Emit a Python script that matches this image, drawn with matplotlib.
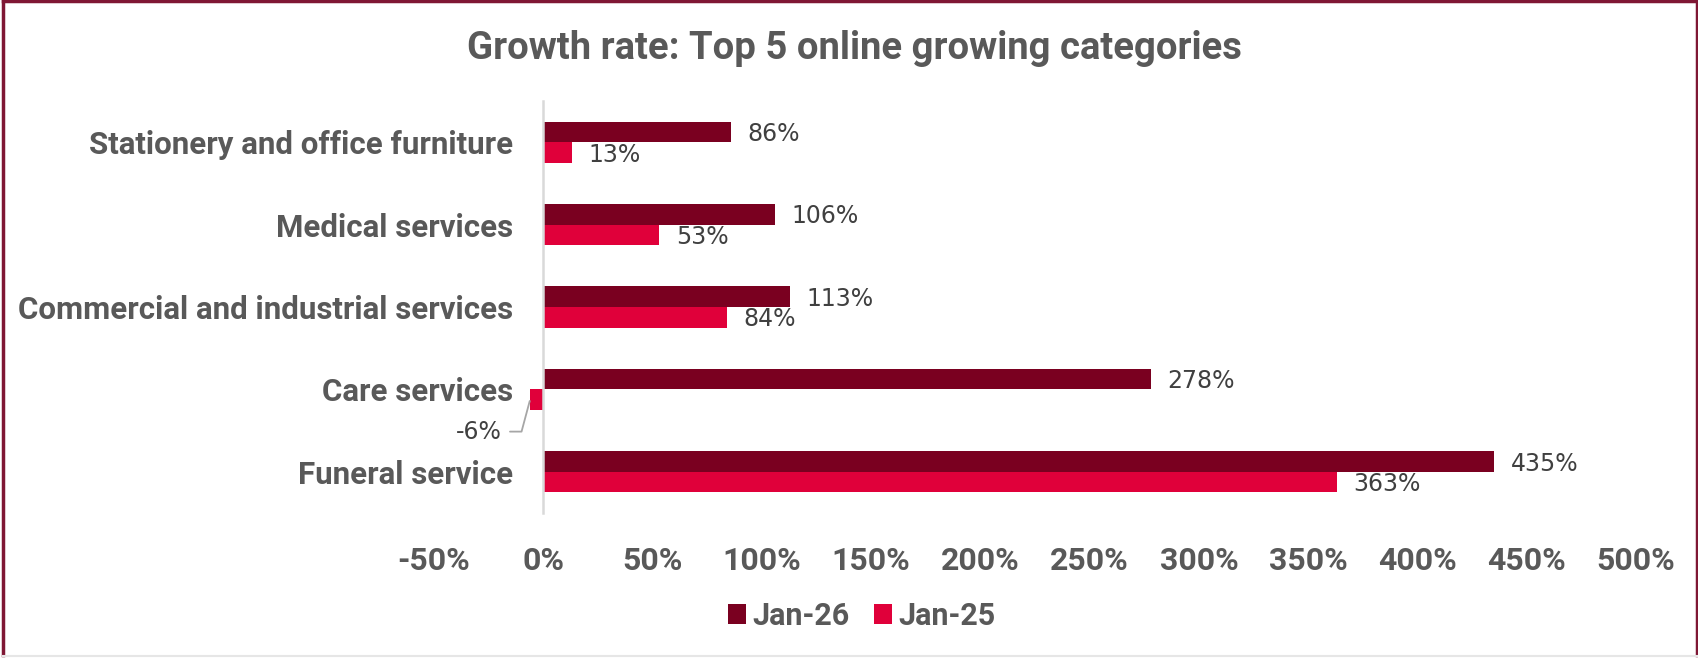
import matplotlib
matplotlib.use("Agg")
import matplotlib.pyplot as plt
from matplotlib.lines import Line2D
from matplotlib.patches import Circle
import numpy as np

categories = ["Stationery and office furniture", "Medical services",
              "Commercial and industrial services", "Care services",
              "Funeral service"]
jan26 = [86, 106, 113, 278, 435]
jan25 = [13, 53, 84, -6, 363]
series_names = ["Jan-26", "Jan-25"]
x_ticks = [-50, 0, 50, 100, 150, 200, 250, 300, 350, 400, 450, 500]

DARK = "#7a0020"
RED = "#e0003a"
GREY = "#595959"
LABEL = "#404040"
BOLD = "Roboto"

fig = plt.figure(figsize=(16.99, 6.58), dpi=100)
ax = fig.add_axes([0.2554, 0.2204, 0.7076, 0.6262])

y = np.arange(len(categories))
h = 0.25
b26 = ax.barh(y - h / 2, jan26, height=h, color=DARK, linewidth=0,
              label=series_names[0])
b25 = ax.barh(y + h / 2, jan25, height=h, color=RED, linewidth=0,
              label=series_names[1])

ax.set_xlim(-50, 500)
ax.set_ylim(len(categories) - 0.5, -0.5)

# value labels, right of bar ends; the negative one gets a leader line
for bars, vals in ((b26, jan26), (b25, jan25)):
    for bar, v in zip(bars, vals):
        yc = bar.get_y() + bar.get_height() / 2
        if v >= 0:
            ax.annotate(f"{v}%", xy=(v, yc), xytext=(12, -1.5),
                        textcoords="offset points", ha="left", va="center",
                        fontsize=17, color=LABEL, family="DejaVu Sans")
        else:
            ax.annotate(f"{v}%", xy=(v, yc), xytext=(-37, -23),
                        textcoords="offset points", ha="center", va="center",
                        fontsize=17, color=LABEL, family="DejaVu Sans",
                        arrowprops=dict(arrowstyle="-", color="#a6a6a6", lw=1.3,
                                        shrinkA=4, shrinkB=1,
                                        relpos=(1, 0.5),
                                        connectionstyle="angle,angleA=0,angleB=75,rad=0"))

# vertical axis crosses at 0%
for s in ("top", "right", "bottom"):
    ax.spines[s].set_visible(False)
ax.spines["left"].set_position(("data", 0))
ax.spines["left"].set_color("#d9d9d9")
ax.spines["left"].set_linewidth(1.8)

ax.set_yticks(y)
ax.set_yticklabels(categories, fontsize=22.5, fontweight="bold", family=BOLD, color=GREY)
ax.set_xticks(x_ticks)
ax.set_xticklabels([f"{t}%" for t in x_ticks], fontsize=23, fontweight="bold",
                   family=BOLD, color=GREY)
ax.tick_params(axis="y", length=0, pad=22)
ax.tick_params(axis="x", length=0, pad=24)

fig.text(0.503, 0.927, "Growth rate: Top 5 online growing categories",
         ha="center", va="center", fontsize=27.5, fontweight="bold",
         family=BOLD, color=GREY)

fig.legend(handles=[b26, b25], labels=series_names, loc="center",
           bbox_to_anchor=(0.507, 0.064), ncol=2, frameon=False,
           handlelength=0.6, handleheight=0.6, handletextpad=0.2,
           columnspacing=0.8,
           prop=dict(family=BOLD, weight="bold", size=22),
           labelcolor=GREY)

# outer frame
frame = "#7f1734"
fig.add_artist(Line2D([0.002, 0.002], [0.004, 0.999], transform=fig.transFigure,
                      color=frame, lw=2.5))
fig.add_artist(Line2D([0.002, 0.999], [0.998, 0.998], transform=fig.transFigure,
                      color=frame, lw=2.5))
fig.add_artist(Line2D([0.999, 0.999], [0.004, 0.999], transform=fig.transFigure,
                      color=frame, lw=2.5))
fig.add_artist(Line2D([0.002, 0.999], [0.003, 0.003], transform=fig.transFigure,
                      color="#e6e6e6", lw=1.5))
fig.add_artist(Circle((1661 / 1699, -6 / 658), 0.0055, transform=fig.transFigure,
                      fill=False, edgecolor="#7f7f7f", lw=3))

fig.savefig("out.png", dpi=100, facecolor="white")
